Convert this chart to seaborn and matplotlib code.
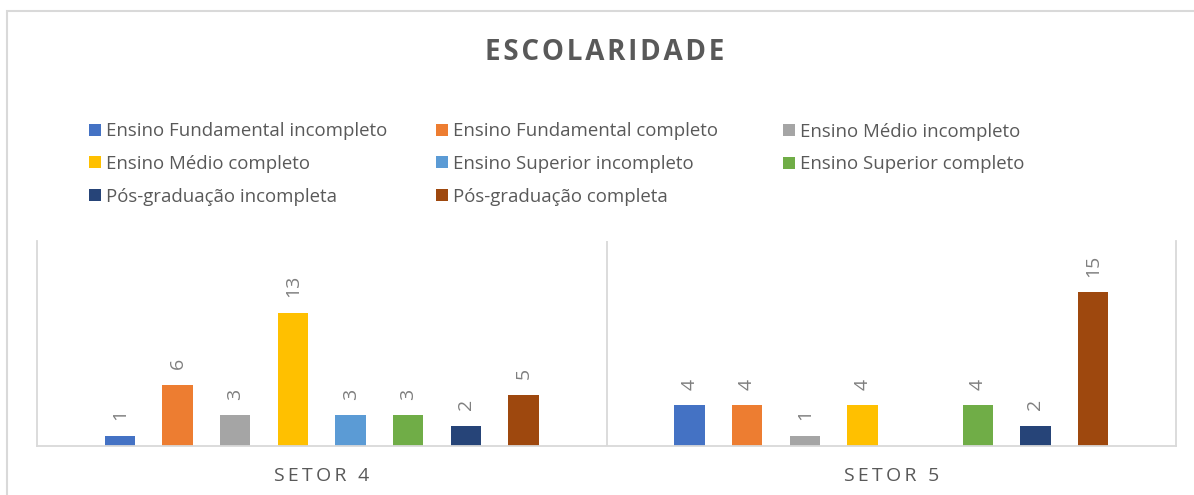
import matplotlib

matplotlib.use("Agg")

import matplotlib.pyplot as plt
import numpy as np
import pandas as pd
import seaborn as sns
from matplotlib.patches import Patch, Rectangle

sns.set_style("white")
plt.rcParams["font.family"] = ["Open Sans", "DejaVu Sans"]

SETORES = ["SETOR 4", "SETOR 5"]
NIVEIS = [
    "Ensino Fundamental incompleto",
    "Ensino Fundamental completo",
    "Ensino Médio incompleto",
    "Ensino Médio completo",
    "Ensino Superior incompleto",
    "Ensino Superior completo",
    "Pós-graduação incompleta",
    "Pós-graduação completa",
]
SETOR_4 = [1, 6, 3, 13, 3, 3, 2, 5]
SETOR_5 = [4, 4, 1, 4, np.nan, 4, 2, 15]
CORES = ["#4472C4", "#ED7D31", "#A5A5A5", "#FFC000",
         "#5B9BD5", "#70AD47", "#264478", "#9E480E"]

GRID = "#d9d9d9"
TEXTO = "#595959"

W, H = 1194, 495


def spaced(text, sep):
    return sep.join(text)


def main():
    df = pd.DataFrame({
        "setor": np.repeat(SETORES, len(NIVEIS)),
        "nivel": NIVEIS * len(SETORES),
        "valor": SETOR_4 + SETOR_5,
    }).dropna()

    fig = plt.figure(figsize=(W / 100, H / 100), dpi=100)
    ax = fig.add_axes([37 / W, 49 / H, (1176 - 37) / W, (446 - 241) / H])

    sns.barplot(
        data=df, x="setor", y="valor", hue="nivel",
        order=SETORES, hue_order=NIVEIS, palette=CORES, saturation=1,
        width=0.81, gap=0.475, linewidth=0, errorbar=None,
        legend=False, ax=ax,
    )

    for container in ax.containers:
        ax.bar_label(container, fmt="%g", rotation=90, padding=11,
                     color="#7f7f7f", fontsize=14)

    ax.set_xlim(-0.5, 1.5)
    ax.set_ylim(0, 20)
    ax.set_yticks([])
    ax.set_xlabel("")
    ax.set_ylabel("")
    ax.set_xticks(range(len(SETORES)))
    ax.set_xticklabels([spaced(s, "\u2009") for s in SETORES])
    ax.tick_params(axis="x", length=0, pad=15, labelsize=14, labelcolor=TEXTO)

    ax.spines["top"].set_visible(False)
    for side in ["left", "right", "bottom"]:
        ax.spines[side].set_color(GRID)
        ax.spines[side].set_linewidth(1.3)
    ax.axvline(0.5, color=GRID, lw=1.3)

    # legend laid out like Excel: fixed-width columns, filled row by row
    handles = [Patch(facecolor=c, edgecolor="none", label=n)
               for c, n in zip(CORES, NIVEIS)]
    columns = [[0, 3, 6], [1, 4, 7], [2, 5]]
    col_x = [89, 436, 783]
    col_y = [164, 164, 148]
    for idx, x, y in zip(columns, col_x, col_y):
        fig.legend(
            handles=[handles[i] for i in idx],
            loc="center left", bbox_to_anchor=(x / W, 1 - y / H),
            frameon=False, borderpad=0, borderaxespad=0,
            handlelength=0.62, handleheight=0.62, handletextpad=0.27,
            labelspacing=0.78, fontsize=13.4, labelcolor=TEXTO,
        )

    fig.text(605 / W, 1 - 53 / H, spaced("ESCOLARIDADE", "\u200a"),
             ha="center", va="center", fontsize=20, fontweight="bold",
             color=TEXTO)

    fig.add_artist(Rectangle(
        (7.3 / W, -0.1), 2, 1.1 - 11 / H, transform=fig.transFigure,
        fill=False, edgecolor=GRID, lw=1.5,
    ))

    fig.savefig("out.png", dpi=100)
    plt.close(fig)


if __name__ == "__main__":
    main()
